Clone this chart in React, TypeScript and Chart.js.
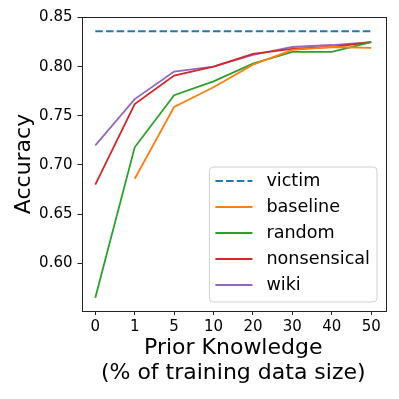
import React, { useEffect, useRef } from "react";
import { Chart, registerables } from "chart.js";

Chart.register(...registerables);

const xLabels = ["0", "1", "5", "10", "20", "30", "40", "50"];
const victim = [0.836, 0.836, 0.836, 0.836, 0.836, 0.836, 0.836, 0.836];
const baseline = [null, 0.686, 0.759, 0.779, 0.802, 0.817, 0.820, 0.819];
const random = [0.565, 0.718, 0.771, 0.785, 0.803, 0.815, 0.815, 0.825];
const nonsensical = [0.680, 0.762, 0.791, 0.800, 0.813, 0.818, 0.820, 0.825];
const wiki = [0.720, 0.767, 0.795, 0.800, 0.812, 0.820, 0.822, 0.825];
const yTicks = [0.6, 0.65, 0.7, 0.75, 0.8, 0.85];

const FONT = '"DejaVu Sans", sans-serif';

const toPoints = (arr: (number | null)[]) =>
  arr.map((v, i) => ({ x: i, y: v }));

const framePlugin = {
  id: "frame",
  afterDatasetsDraw(chart: any) {
    const { ctx, chartArea: ca } = chart;
    ctx.save();
    ctx.strokeStyle = "#222";
    ctx.lineWidth = 1;
    ctx.setLineDash([]);
    ctx.strokeRect(
      Math.round(ca.left) + 0.5,
      Math.round(ca.top) + 0.5,
      Math.round(ca.right - ca.left),
      Math.round(ca.bottom - ca.top)
    );
    ctx.restore();
  },
};

const legendPlugin = {
  id: "boxLegend",
  afterDraw(chart: any) {
    const { ctx, chartArea: ca } = chart;
    const items = chart.data.datasets;
    ctx.save();
    ctx.font = `17.6px ${FONT}`;
    const tw = Math.max(...items.map((d: any) => ctx.measureText(d.label).width));
    const rowH = 26;
    const w = 57 + tw + 7;
    const h = items.length * rowH + 5;
    const x1 = ca.right - 8;
    const y1 = ca.bottom - 9;
    const x0 = x1 - w;
    const y0 = y1 - h;
    const r = 4;
    ctx.beginPath();
    ctx.moveTo(x0 + r, y0);
    ctx.arcTo(x1, y0, x1, y1, r);
    ctx.arcTo(x1, y1, x0, y1, r);
    ctx.arcTo(x0, y1, x0, y0, r);
    ctx.arcTo(x0, y0, x1, y0, r);
    ctx.closePath();
    ctx.fillStyle = "rgba(255,255,255,0.8)";
    ctx.fill();
    ctx.strokeStyle = "#d0d0d0";
    ctx.lineWidth = 1;
    ctx.stroke();
    items.forEach((d: any, i: number) => {
      const cy = y0 + 14 + i * rowH;
      ctx.strokeStyle = d.borderColor;
      ctx.lineWidth = d.borderWidth;
      ctx.setLineDash(d.borderDash || []);
      ctx.beginPath();
      ctx.moveTo(x0 + 6, cy);
      ctx.lineTo(x0 + 43, cy);
      ctx.stroke();
      ctx.setLineDash([]);
      ctx.fillStyle = "#000";
      ctx.textBaseline = "middle";
      ctx.textAlign = "left";
      ctx.fillText(d.label, x0 + 57, cy);
    });
    ctx.restore();
  },
};

export default function App() {
  const ref = useRef<HTMLCanvasElement | null>(null);

  useEffect(() => {
    document.body.style.margin = "0";
    const canvas = ref.current;
    if (!canvas) return;
    const mk = (label: string, data: (number | null)[], color: string, dash?: number[]) => ({
      label,
      data: toPoints(data),
      borderColor: color,
      backgroundColor: color,
      borderWidth: 1.8,
      borderDash: dash,
      pointRadius: 0,
      tension: 0,
      fill: false,
    });
    const chart = new Chart(canvas, {
      type: "line",
      data: {
        datasets: [
          mk("victim", victim, "#1f77b4", [7.5, 3.2]),
          mk("baseline", baseline, "#ff7f0e"),
          mk("random", random, "#2ca02c"),
          mk("nonsensical", nonsensical, "#d62728"),
          mk("wiki", wiki, "#9467bd"),
        ],
      },
      options: {
        responsive: false,
        animation: false,
        devicePixelRatio: 1,
        layout: { padding: { top: 17, right: 14, left: 0, bottom: 0 } },
        plugins: { legend: { display: false }, tooltip: { enabled: false } },
        scales: {
          x: {
            type: "linear",
            min: -0.35,
            max: 7.35,
            afterBuildTicks: (s: any) => {
              s.ticks = xLabels.map((_, i) => ({ value: i }));
            },
            afterFit: (s: any) => {
              s.height = 88;
            },
            ticks: {
              color: "#000",
              font: { family: FONT, size: 15 },
              padding: 3,
              maxRotation: 0,
              autoSkip: false,
              callback: (v: any) => xLabels[Math.round(Number(v))] ?? "",
            },
            grid: { drawOnChartArea: false, drawTicks: true, tickLength: 4, color: "#222" },
            border: { display: false },
            title: {
              display: true,
              text: ["Prior Knowledge", "(% of training data size)"],
              color: "#000",
              font: { family: FONT, size: 22, lineHeight: 1.1 },
              padding: { top: 0, bottom: 14 },
            },
          },
          y: {
            type: "linear",
            min: 0.5515,
            max: 0.8505,
            afterBuildTicks: (s: any) => {
              s.ticks = yTicks.map((v) => ({ value: v }));
            },
            afterFit: (s: any) => {
              s.width = 81.5;
            },
            ticks: {
              color: "#000",
              font: { family: FONT, size: 15 },
              padding: 5,
              callback: (v: any) => Number(v).toFixed(2),
            },
            grid: { drawOnChartArea: false, drawTicks: true, tickLength: 4, color: "#222" },
            border: { display: false },
            title: {
              display: true,
              text: "Accuracy",
              color: "#000",
              font: { family: FONT, size: 22, lineHeight: 1.1 },
              padding: { top: 12, bottom: 0 },
            },
          },
        },
      },
      plugins: [framePlugin, legendPlugin],
    } as any);
    return () => chart.destroy();
  }, []);

  return (
    <div style={{ position: "fixed", left: 0, top: 0, width: 399, height: 399 }}>
      <canvas ref={ref} width={399} height={399} style={{ width: 399, height: 399 }} />
    </div>
  );
}
